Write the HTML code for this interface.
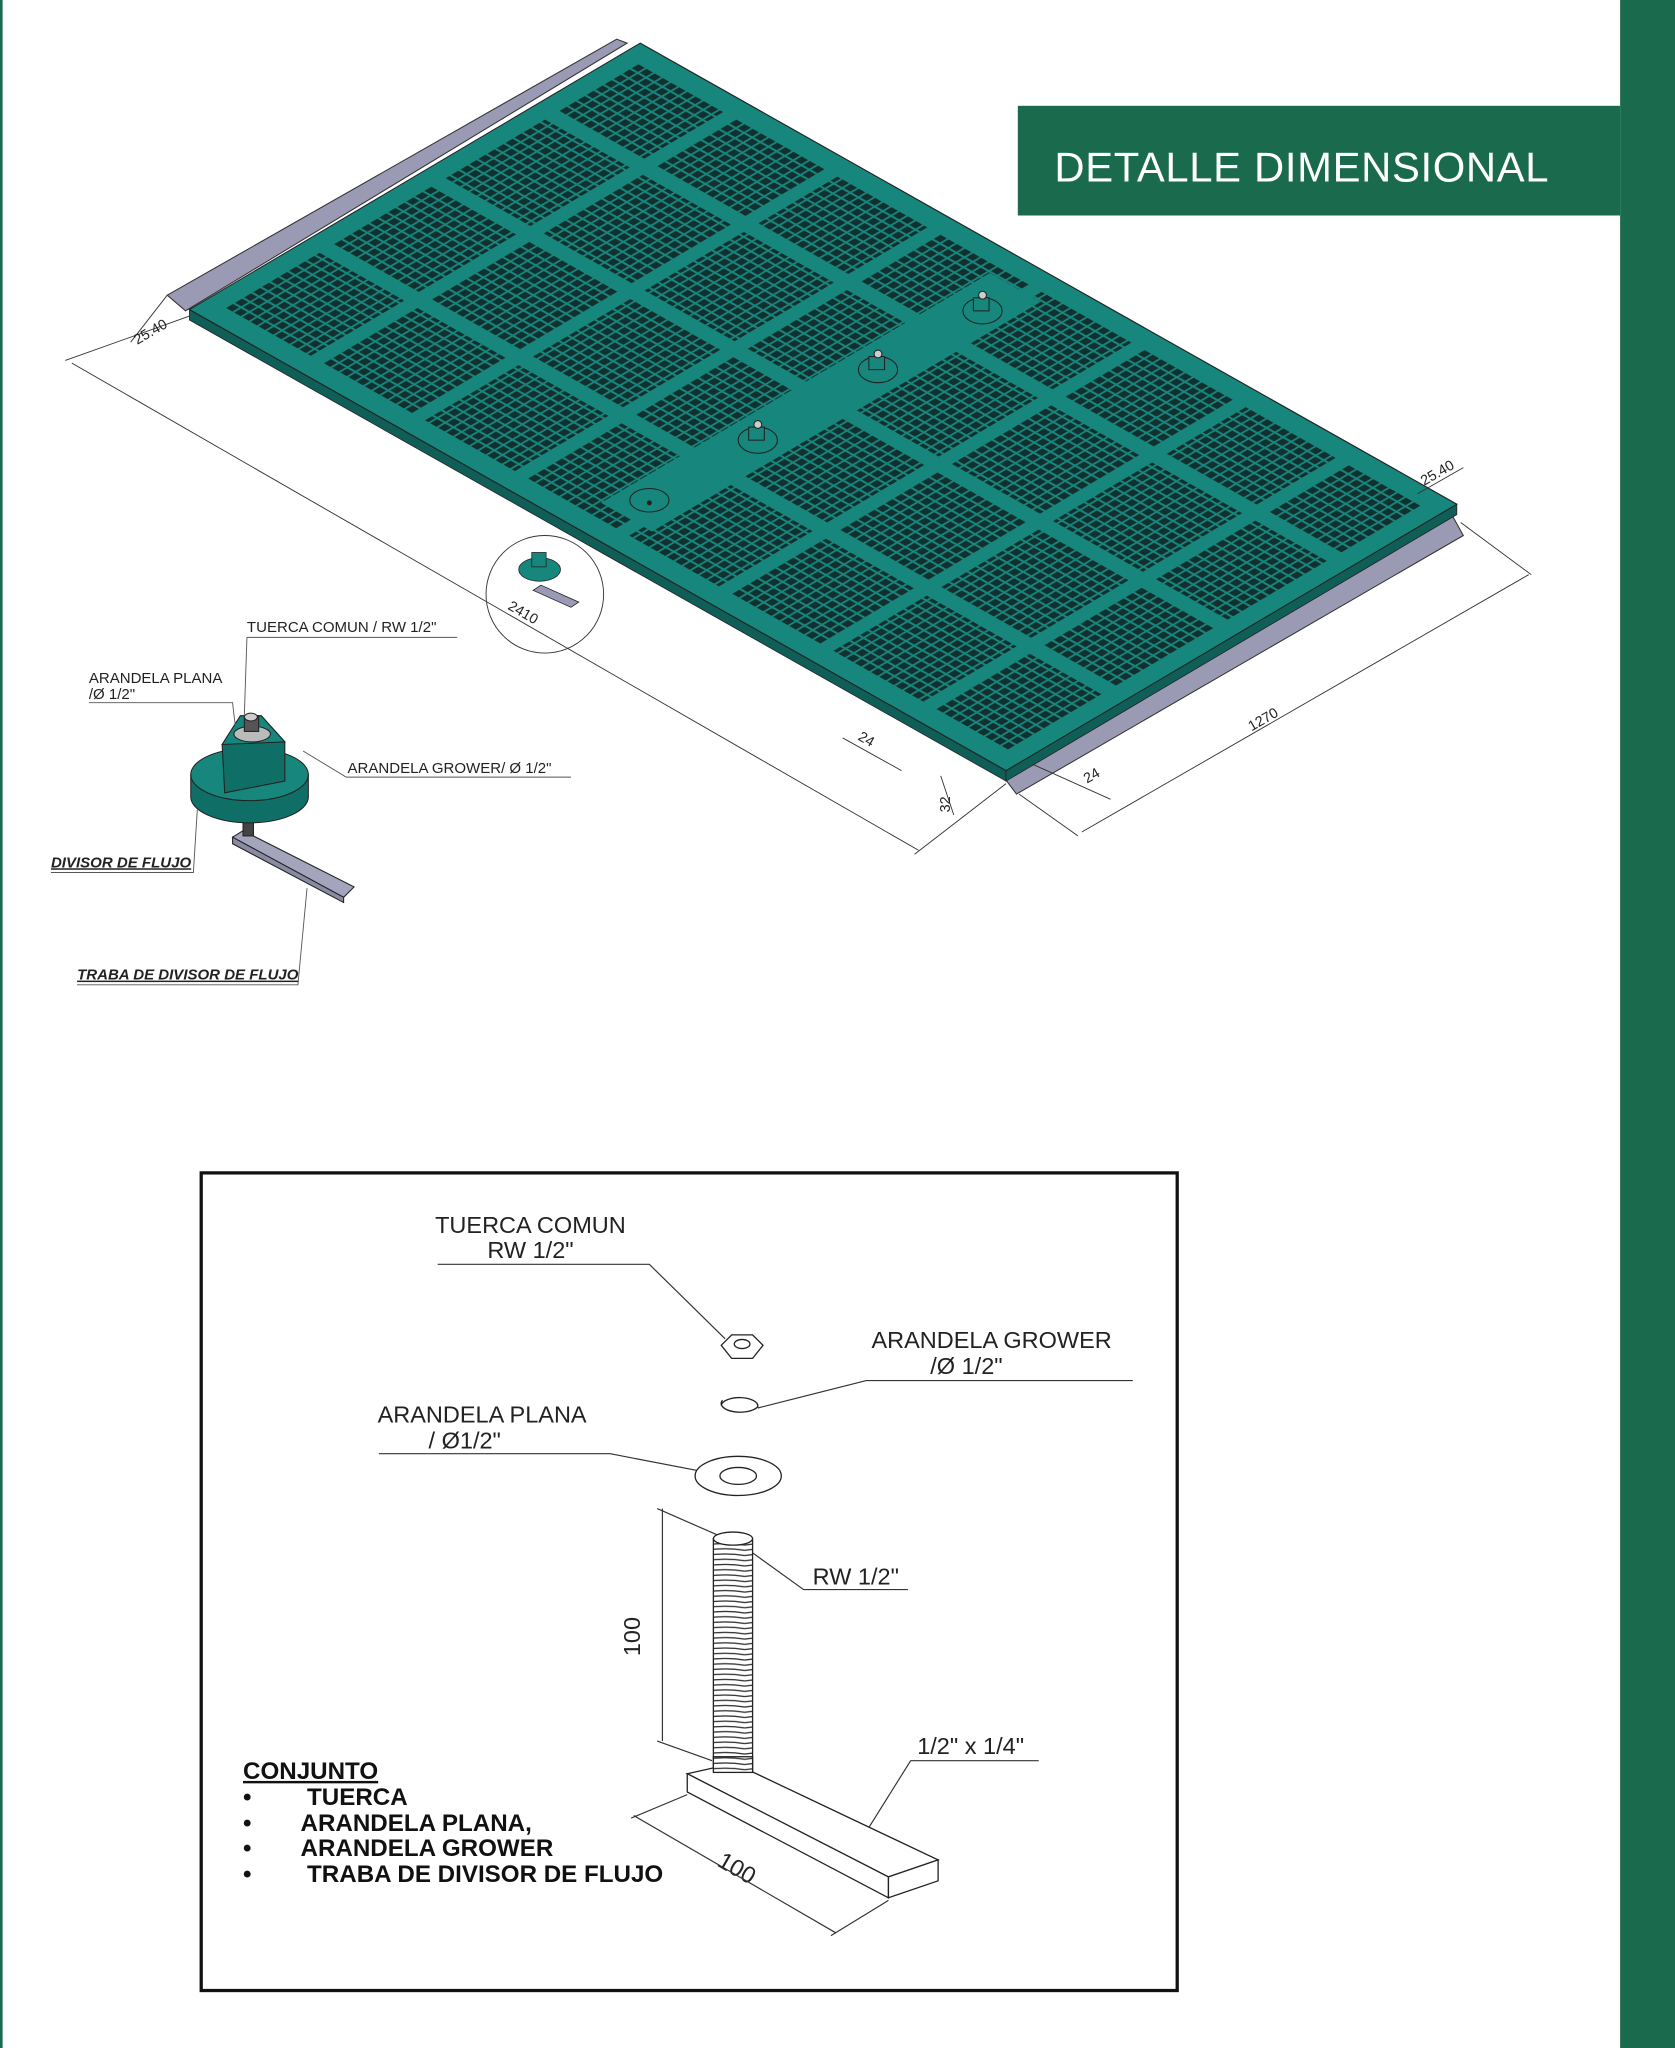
<!DOCTYPE html>
<html><head><meta charset="utf-8"><style>
html,body{margin:0;padding:0;background:#fff;}
svg{display:block;}
text{font-family:"Liberation Sans",sans-serif;}
</style></head><body>
<svg width="1675" height="2048" viewBox="0 0 1282 1568" preserveAspectRatio="none" xmlns="http://www.w3.org/2000/svg">
<defs>
<pattern id="sq" patternUnits="userSpaceOnUse" width="8" height="8">
<rect width="8" height="8" fill="#17867c"/>
<rect x="1" y="1" width="6.2" height="6.2" fill="#12302f"/>
</pattern>
<pattern id="gap" patternUnits="userSpaceOnUse" width="100" height="100">
<rect x="0" y="0" width="100" height="12" fill="#17867c"/>
<rect x="0" y="0" width="12" height="100" fill="#17867c"/>
</pattern>
</defs>
<rect x="0" y="0" width="2" height="1568" fill="#1a6b4e"/>
<rect x="1240" y="0" width="42" height="1568" fill="#1a6b4e"/>
<rect x="779" y="81" width="461" height="84" fill="#1a6b4e"/>
<text x="807" y="139" font-size="32" fill="#fff" letter-spacing="0.5">DETALLE DIMENSIONAL</text>

<!-- rails -->
<polygon points="128,226 472,30 480,33 142,238" fill="#9a9ab4" stroke="#333" stroke-width="0.8"/>
<polygon points="766,592 1110,392 1120,410 778,608" fill="#9a9ab4" stroke="#333" stroke-width="0.8"/>
<!-- plate thickness -->
<polygon points="145,237 770,590 770,598 145,245" fill="#0f5f58" stroke="#222" stroke-width="0.6"/>
<polygon points="770,590 1115,386 1115,394 770,598" fill="#0f5f58" stroke="#222" stroke-width="0.6"/>
<!-- plate -->
<g transform="matrix(0.78125,0.44125,0.8625,-0.51,145,237)">
<rect x="0" y="0" width="800" height="400" fill="#17867c" stroke="#222" stroke-width="1"/>
<rect x="14" y="14" width="772" height="372" fill="url(#sq)"/>
<rect x="14" y="14" width="772" height="372" fill="url(#gap)"/>
<rect x="370" y="30" width="50" height="345" fill="#17867c"/>
<rect x="14" y="14" width="772" height="372" fill="none" stroke="#17867c" stroke-width="6"/>
</g>
<!-- nuts / hole -->
<g stroke="#222" stroke-width="0.8">
<ellipse cx="497" cy="383" rx="15" ry="9" fill="#17867c"/>
<circle cx="497" cy="385" r="1.5" fill="#222"/>
<ellipse cx="580" cy="337" rx="15" ry="10" fill="#17867c"/>
<rect x="573" y="327" width="12" height="10" fill="#17867c"/>
<circle cx="580" cy="325" r="3" fill="#ccc"/>
<ellipse cx="672" cy="283" rx="15" ry="10" fill="#17867c"/>
<rect x="665" y="273" width="12" height="10" fill="#17867c"/>
<circle cx="672" cy="271" r="3" fill="#ccc"/>
<ellipse cx="752" cy="238" rx="15" ry="10" fill="#17867c"/>
<rect x="745" y="228" width="12" height="10" fill="#17867c"/>
<circle cx="752" cy="226" r="3" fill="#ccc"/>
</g>

<!-- dimensions top -->
<g stroke="#333" stroke-width="0.7" fill="none">
<line x1="145" y1="242" x2="50" y2="276"/>
<line x1="55" y1="278" x2="703" y2="651"/>
<line x1="770" y1="600" x2="700" y2="654"/>
<line x1="1118" y1="400" x2="1172" y2="440"/>
<line x1="828" y1="637" x2="1170" y2="440"/>
<line x1="780" y1="608" x2="825" y2="640"/>
<line x1="1085" y1="378" x2="1120" y2="358"/>
<line x1="128" y1="226" x2="100" y2="262"/>
<line x1="645" y1="565" x2="690" y2="590"/>
<line x1="790" y1="585" x2="850" y2="612"/>
<line x1="720" y1="594" x2="730" y2="624"/>
<circle cx="417" cy="455" r="45"/>
</g>
<g font-size="11" fill="#222">
<text transform="translate(105,264) rotate(-30)">25.40</text>
<text transform="translate(388,466) rotate(30)">2410</text>
<text transform="translate(958,560) rotate(-30)">1270</text>
<text transform="translate(1090,372) rotate(-30)">25.40</text>
<text transform="translate(656,566) rotate(30)">24</text>
<text transform="translate(832,600) rotate(-30)">24</text>
<text transform="translate(727,622) rotate(-90)">32</text>
</g>
<!-- small assembly in circle -->
<ellipse cx="413" cy="436" rx="16" ry="9" fill="#17867c" stroke="#222" stroke-width="0.6"/>
<rect x="407" y="423" width="11" height="11" fill="#17867c" stroke="#222" stroke-width="0.6"/>
<polygon points="408,452 414,448 443,461 437,465" fill="#9a9ab4" stroke="#222" stroke-width="0.6"/>

<!-- left assembly -->
<g stroke="#222" stroke-width="0.8">
<polygon points="178,641 186,636 271,679 263,687" fill="#a4a4bd"/>
<polygon points="178,641 263,687 263,691 178,646" fill="#8a8aa3"/>
<rect x="186" y="628" width="8" height="12" fill="#444"/>
<path d="M146,593 L146,610 A45,20 0 0 0 236,610 L236,593 Z" fill="#0f6f66"/>
<ellipse cx="191" cy="593" rx="45" ry="20" fill="#17867c"/>
<polygon points="170,570 184,548 200,548 218,568 218,598 172,607" fill="#0f6f66"/>
<polygon points="170,570 184,548 200,548 218,568" fill="#17867c"/>
<ellipse cx="193" cy="562" rx="14" ry="6" fill="#bbb"/>
<rect x="187" y="548" width="11" height="12" fill="#555"/>
<ellipse cx="192" cy="549" rx="5" ry="3" fill="#ccc"/>
</g>
<g stroke="#555" stroke-width="0.7" fill="none">
<polyline points="350,488 189,488 187,548"/>
<polyline points="68,538 178,538 180,555"/>
<polyline points="437,595 265,595 232,575"/>
<polyline points="39,668 148,668 151,620"/>
<polyline points="59,754 228,754 235,680"/>
</g>
<g font-size="11.5" fill="#222">
<text x="189" y="484">TUERCA COMUN / RW 1/2"</text>
<text x="68" y="523">ARANDELA PLANA</text>
<text x="68" y="535">/Ø 1/2"</text>
<text x="266" y="592">ARANDELA GROWER/ Ø 1/2"</text>
<text x="39" y="664" font-weight="bold" font-style="italic" text-decoration="underline">DIVISOR DE FLUJO</text>
<text x="59" y="750" font-weight="bold" font-style="italic" text-decoration="underline">TRABA DE DIVISOR DE FLUJO</text>
</g>

<!-- bottom box -->
<rect x="154" y="898" width="747" height="626" fill="none" stroke="#111" stroke-width="2.5"/>
<g font-size="18" fill="#222">
<text x="333" y="944">TUERCA COMUN</text>
<text x="373" y="963">RW 1/2"</text>
<text x="667" y="1032">ARANDELA GROWER</text>
<text x="712" y="1052">/Ø 1/2"</text>
<text x="289" y="1089">ARANDELA PLANA</text>
<text x="328" y="1109">/ Ø1/2"</text>
<text x="622" y="1213">RW 1/2"</text>
<text x="702" y="1343">1/2" x 1/4"</text>
<text transform="translate(490,1268) rotate(-90)">100</text>
<text transform="translate(548,1428) rotate(30)">100</text>
</g>
<g stroke="#333" stroke-width="0.9" fill="none">
<polyline points="335,968 497,968 555,1025"/>
<polyline points="867,1057 663,1057 580,1078"/>
<polyline points="290,1113 467,1113 545,1128"/>
<polyline points="695,1217 615,1217 572,1186"/>
<polyline points="795,1348 697,1348 657,1412"/>
<line x1="507" y1="1155" x2="507" y2="1333"/>
<line x1="503" y1="1155" x2="560" y2="1180"/>
<line x1="503" y1="1333" x2="545" y2="1348"/>
<line x1="485" y1="1390" x2="640" y2="1480"/>
<line x1="526" y1="1374" x2="483" y2="1392"/>
<line x1="680" y1="1455" x2="636" y2="1482"/>
</g>
<g stroke="#222" stroke-width="1" fill="#fff">
<polygon points="552,1030 560,1022 576,1022 584,1030 576,1040 560,1040"/>
<ellipse cx="568" cy="1029" rx="6" ry="3.5"/>
<path d="M552,1076 A13,6 0 1 1 580,1077 A13,6 0 1 1 553,1072" />
<ellipse cx="565" cy="1130" rx="33" ry="15"/>
<ellipse cx="565" cy="1130" rx="14" ry="6.5"/>
</g>
<defs>
<pattern id="thr" patternUnits="userSpaceOnUse" width="30" height="4">
<rect width="30" height="4" fill="#fff"/>
<path d="M0,3 Q15,0.5 30,3" stroke="#333" stroke-width="1" fill="none"/>
</pattern>
</defs>
<rect x="546" y="1178" width="30" height="182" fill="url(#thr)" stroke="#222" stroke-width="1"/>
<ellipse cx="561" cy="1178" rx="15" ry="5" fill="#fff" stroke="#222"/>
<g stroke="#222" stroke-width="1" fill="#fff">
<polygon points="526,1358 562,1350 718,1424 680,1437"/>
<polygon points="526,1358 680,1437 680,1453 526,1372"/>
<polygon points="680,1437 718,1424 718,1440 680,1453"/>
</g>
<rect x="546" y="1345" width="30" height="12" fill="url(#thr)" stroke="#222"/>
<g font-size="18.5" font-weight="bold" fill="#111">
<text x="186" y="1362" text-decoration="underline">CONJUNTO</text>
<text x="186" y="1382">•</text><text x="235" y="1382">TUERCA</text>
<text x="186" y="1402">•</text><text x="230" y="1402">ARANDELA PLANA,</text>
<text x="186" y="1421">•</text><text x="230" y="1421">ARANDELA GROWER</text>
<text x="186" y="1441">•</text><text x="235" y="1441">TRABA DE DIVISOR DE FLUJO</text>
</g>
</svg>
</body></html>
